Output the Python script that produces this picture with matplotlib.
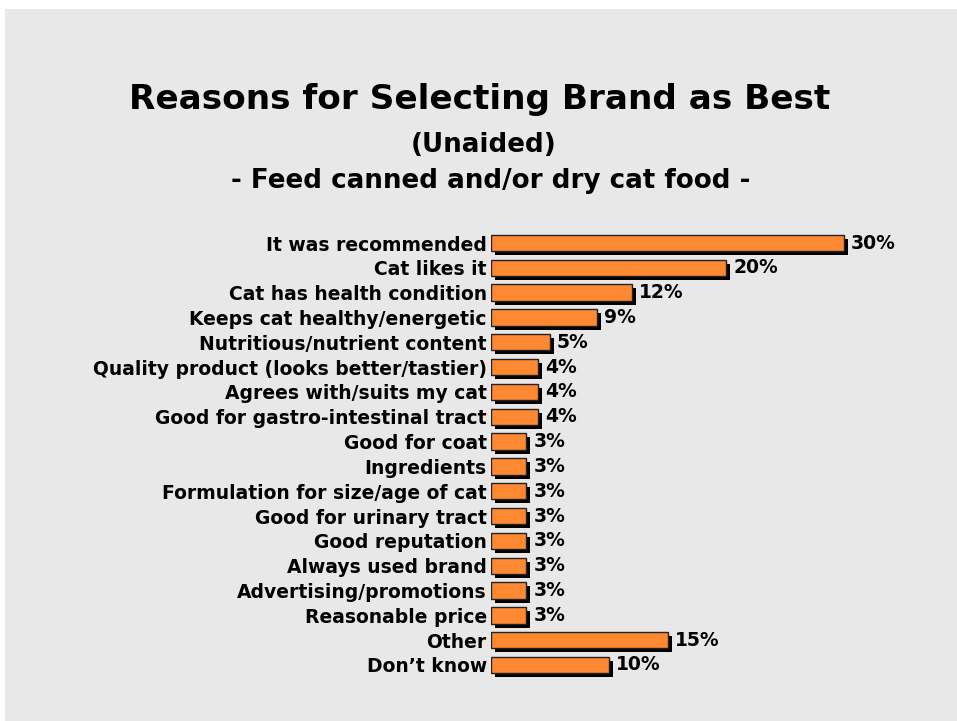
import matplotlib
matplotlib.use("Agg")
import matplotlib.pyplot as plt
import matplotlib.transforms as mtransforms
from matplotlib.patches import Rectangle

categories = [
    "It was recommended",
    "Cat likes it",
    "Cat has health condition",
    "Keeps cat healthy/energetic",
    "Nutritious/nutrient content",
    "Quality product (looks better/tastier)",
    "Agrees with/suits my cat",
    "Good for gastro-intestinal tract",
    "Good for coat",
    "Ingredients",
    "Formulation for size/age of cat",
    "Good for urinary tract",
    "Good reputation",
    "Always used brand",
    "Advertising/promotions",
    "Reasonable price",
    "Other",
    "Don\u2019t know",
]
values = [30, 20, 12, 9, 5, 4, 4, 4, 3, 3, 3, 3, 3, 3, 3, 3, 15, 10]

title = "Reasons for Selecting Brand as Best"
subtitle1 = "(Unaided)"
subtitle2 = "- Feed canned and/or dry cat food -"

W, H = 957, 721
fig = plt.figure(figsize=(W / 100, H / 100), dpi=100)
fig.patch.set_facecolor("white")

# grey slide panel
fig.patches.append(Rectangle((5 / W, 0), 1 - 5 / W, 1 - 9 / H,
                             transform=fig.transFigure, facecolor="#e8e8e8",
                             edgecolor="none", zorder=-5))

font = "DejaVu Sans"

fig.text(480 / W, 1 - 100 / H, title, ha="center", va="center",
         fontsize=24.7, fontweight="bold", family=font)
fig.text(484 / W, 1 - 145 / H, subtitle1, ha="center", va="center",
         fontsize=18.8, fontweight="bold", family=font)
fig.text(491 / W, 1 - 181 / H, subtitle2, ha="center", va="center",
         fontsize=18.8, fontweight="bold", family=font)

# axes: left edge at bar origin
x0, x1 = 491, 950
pitch = (665 - 243) / 17
ytop = 243 - pitch / 2
ybot = 665 + pitch / 2
ax = fig.add_axes([x0 / W, 1 - ybot / H, (x1 - x0) / W, (ybot - ytop) / H])
ax.set_facecolor("none")
px_per_unit = 11.77
ax.set_xlim(0, (x1 - x0) / px_per_unit)
n = len(categories)
ax.set_ylim(n - 0.5, -0.5)
ypos = list(range(n))

bar_h = 0.66
shadow = mtransforms.offset_copy(ax.transData, fig=fig, x=4, y=-4, units="dots")
ax.barh(ypos, values, height=bar_h, color="black", edgecolor="none",
        transform=shadow, zorder=2)
ax.barh(ypos, values, height=bar_h, color="#ff8833", edgecolor="#222222",
        linewidth=1.0, zorder=3)

for y, v in zip(ypos, values):
    ax.annotate(f"{v}%", (v, y), xytext=(5, 0), textcoords="offset points",
                ha="left", va="center", fontsize=13.5, fontweight="bold",
                family=font, zorder=4)

ax.set_yticks(ypos)
ax.set_yticklabels(categories, fontsize=13.5, fontweight="bold", family=font)
ax.tick_params(axis="y", length=0, pad=3)
ax.set_xticks([])
for s in ax.spines.values():
    s.set_visible(False)

fig.savefig("out.png", dpi=100, facecolor="white")
